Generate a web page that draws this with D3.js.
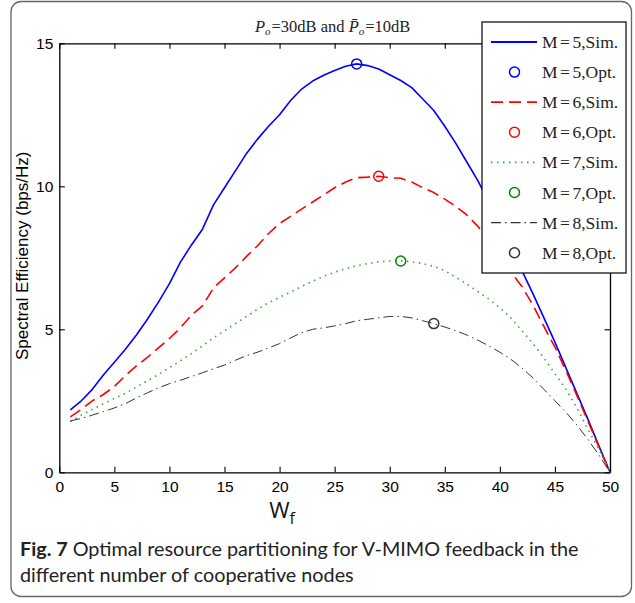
<!DOCTYPE html>
<html><head><meta charset="utf-8">
<script src="https://cdn.jsdelivr.net/npm/d3@7/dist/d3.min.js"></script>
<style>body{margin:0;background:#fff}</style>
</head><body>
<svg id="c" width="635" height="603"></svg>
<script>
// ---- data ----
const wf = d3.range(1, 51);
const simM5 = [2.18,2.5,2.9,3.4,3.85,4.3,4.8,5.35,5.95,6.6,7.35,7.95,8.5,9.35,9.95,10.55,11.15,11.65,12.1,12.5,
  13.0,13.4,13.68,13.88,14.05,14.2,14.28,14.22,14.1,13.9,13.7,13.45,13.05,12.65,12.1,11.5,10.85,10.2,9.45,8.65,
  7.85,7.05,6.25,5.4,4.55,3.65,2.75,1.85,0.92,0];
const simM6 = [1.94,2.2,2.5,2.72,3.0,3.38,3.72,4.02,4.35,4.68,5.05,5.5,5.82,6.45,6.8,7.15,7.55,7.92,8.35,8.7,
  8.95,9.2,9.45,9.7,9.95,10.15,10.3,10.32,10.35,10.3,10.28,10.15,9.95,9.78,9.55,9.3,9.0,8.6,8.1,7.55,
  7.0,6.5,5.85,5.1,4.38,3.55,2.68,1.78,0.88,0];
const simM7 = [1.77,2.0,2.2,2.4,2.58,2.76,2.98,3.2,3.42,3.66,3.9,4.15,4.42,4.7,4.95,5.2,5.45,5.7,5.93,6.12,
  6.3,6.5,6.68,6.85,7.0,7.12,7.22,7.3,7.36,7.39,7.4,7.36,7.3,7.2,7.05,6.82,6.58,6.32,6.06,5.75,
  5.4,4.95,4.5,4.0,3.45,2.9,2.25,1.5,0.8,0];
const simM8 = [1.8,1.88,2.0,2.12,2.25,2.4,2.6,2.78,2.95,3.1,3.22,3.35,3.48,3.62,3.75,3.92,4.08,4.2,4.35,4.5,
  4.7,4.88,5.0,5.05,5.12,5.2,5.3,5.35,5.4,5.45,5.45,5.4,5.3,5.2,5.08,4.95,4.8,4.62,4.42,4.2,
  3.95,3.65,3.3,2.9,2.5,2.1,1.65,1.15,0.6,0];
const optW = [27, 29, 31, 34];
const optV = [14.28, 10.35, 7.39, 5.2];
const seriesM = ["5", "6", "7", "8"];
const simTag = ",Sim.";
const optTag = ",Opt.";
const xTicks = [0,5,10,15,20,25,30,35,40,45,50];
const yTicks = [0,5,10,15];

// ---- styles ----
const lineStyles = [
  {stroke:"#0000ff", width:1.6, dash:null},
  {stroke:"#ff0000", width:1.6, dash:"12,6"},
  {stroke:"#33aa33", width:1.6, dash:"1.5,4.5"},
  {stroke:"#333333", width:1.0, dash:"10,4,1.5,4"}
];
const markerColors = ["#0000ff", "#ff0000", "#008800", "#333333"];

const svg = d3.select("#c");
const M = {l:59.3, r:610, t:43.3, b:472.3};
const x = d3.scaleLinear().domain([0,50]).range([M.l, M.r]);
const y = d3.scaleLinear().domain([0,15]).range([M.b, M.t]);

// outer rounded frame
svg.append("rect").attr("x",11).attr("y",1.5).attr("width",620.5).attr("height",595)
  .attr("rx",10).attr("fill","none").attr("stroke","#666").attr("stroke-width",1.3);

const axFont = "'Liberation Sans', Arial, sans-serif";

// axes (MATLAB style, inward ticks)
const tl = 5.5;
const gB = svg.append("g").attr("transform",`translate(0,${M.b})`)
  .call(d3.axisBottom(x).tickValues(xTicks).tickSizeInner(-tl).tickSizeOuter(0).tickPadding(9));
const gT = svg.append("g").attr("transform",`translate(0,${M.t})`)
  .call(d3.axisTop(x).tickValues(xTicks).tickSizeInner(-tl).tickSizeOuter(0).tickFormat(""));
const gL = svg.append("g").attr("transform",`translate(${M.l},0)`)
  .call(d3.axisLeft(y).tickValues(yTicks).tickSizeInner(-tl).tickSizeOuter(0).tickPadding(6));
const gR = svg.append("g").attr("transform",`translate(${M.r},0)`)
  .call(d3.axisRight(y).tickValues(yTicks).tickSizeInner(-tl).tickSizeOuter(0).tickFormat(""));
[gB,gT,gL,gR].forEach(g=>{
  g.select(".domain").attr("stroke","#000").attr("stroke-width",1.3);
  g.selectAll(".tick line").attr("stroke","#000").attr("stroke-width",1.1);
  g.selectAll(".tick text").attr("font-family",axFont).attr("font-size",15.5).attr("fill","#000");
});

// series
const allSim = [simM5, simM6, simM7, simM8];
const line = d3.line().x((d,i)=>x(wf[i])).y(d=>y(d));
allSim.forEach((s,k)=>{
  const st = lineStyles[k];
  svg.append("path").datum(s).attr("d",line).attr("fill","none")
    .attr("stroke",st.stroke).attr("stroke-width",st.width)
    .attr("stroke-dasharray",st.dash).attr("stroke-linejoin","round");
});
optW.forEach((w,k)=>{
  svg.append("circle").attr("cx",x(w)).attr("cy",y(optV[k])).attr("r",5)
    .attr("fill","none").attr("stroke",markerColors[k]).attr("stroke-width",1.5);
});

// title
const serif = "'Liberation Serif','Times New Roman',serif";
const title = svg.append("text").attr("x",(M.l+M.r)/2 - 2).attr("y",32).attr("text-anchor","middle")
  .attr("font-family",serif).attr("font-size",16.5).attr("fill","#222");
title.append("tspan").attr("font-style","italic").text("P");
title.append("tspan").attr("font-style","italic").attr("font-size",11).attr("dy",3).text("o");
title.append("tspan").attr("dy",-3).attr("dx",1).text("=30dB and ");
title.append("tspan").attr("font-style","italic").text("P\u0304");
title.append("tspan").attr("font-style","italic").attr("font-size",11).attr("dy",3).text("o");
title.append("tspan").attr("dy",-3).attr("dx",1).text("=10dB");

// legend
const LG = {x:482, y:22, w:144, h:251};
svg.append("rect").attr("x",LG.x).attr("y",LG.y).attr("width",LG.w).attr("height",LG.h)
  .attr("fill","#fff").attr("stroke","#000").attr("stroke-width",1.2);
const rowH = 30.1;
const entries = [];
seriesM.forEach((m,k)=>{ entries.push({type:"line",k,m,tag:simTag}); entries.push({type:"mark",k,m,tag:optTag}); });
entries.forEach((e,i)=>{
  const cy = LG.y + 20 + i*rowH;
  if (e.type==="line") {
    const st = lineStyles[e.k];
    svg.append("line").attr("x1",LG.x+9).attr("x2",LG.x+55).attr("y1",cy).attr("y2",cy)
      .attr("stroke",st.stroke).attr("stroke-width",st.width===1?1.2:1.8).attr("stroke-dasharray",st.dash);
  } else {
    svg.append("circle").attr("cx",LG.x+32.5).attr("cy",cy).attr("r",5).attr("fill","none")
      .attr("stroke",markerColors[e.k]).attr("stroke-width",1.5);
  }
  const t = svg.append("text").attr("x",LG.x+60).attr("y",cy+6).attr("font-family",serif)
    .attr("font-size",17.5).attr("fill","#222");
  t.append("tspan").text("M");
  t.append("tspan").attr("dx",2.5).text("=");
  t.append("tspan").attr("dx",2.5).text(e.m + e.tag);
});

// axis labels
svg.append("text").attr("transform",`translate(28,${(M.t+M.b)/2 - 2}) rotate(-90)`)
  .attr("text-anchor","middle").attr("font-family",axFont).attr("font-size",17).attr("fill","#000")
  .text("Spectral Efficiency (bps/Hz)");
const xl = svg.append("text").attr("x",282).attr("y",518).attr("text-anchor","middle")
  .attr("font-family","'Open Sans',sans-serif").attr("font-size",22).attr("fill","#111");
xl.append("tspan").text("W");
xl.append("tspan").attr("font-size",16).attr("dy",6).text("f");

// caption
const cap = "'Lato','Open Sans',sans-serif";
const c1 = svg.append("text").attr("x",20).attr("y",556).attr("font-family",cap).attr("font-size",19.8).attr("fill","#222");
c1.append("tspan").attr("font-weight","bold").text("Fig. 7");
c1.append("tspan").text(" Optimal resource partitioning for V-MIMO feedback in the");
svg.append("text").attr("x",20).attr("y",582).attr("font-family",cap).attr("font-size",19.8).attr("fill","#222")
  .text("different number of cooperative nodes");
</script>
</body></html>
